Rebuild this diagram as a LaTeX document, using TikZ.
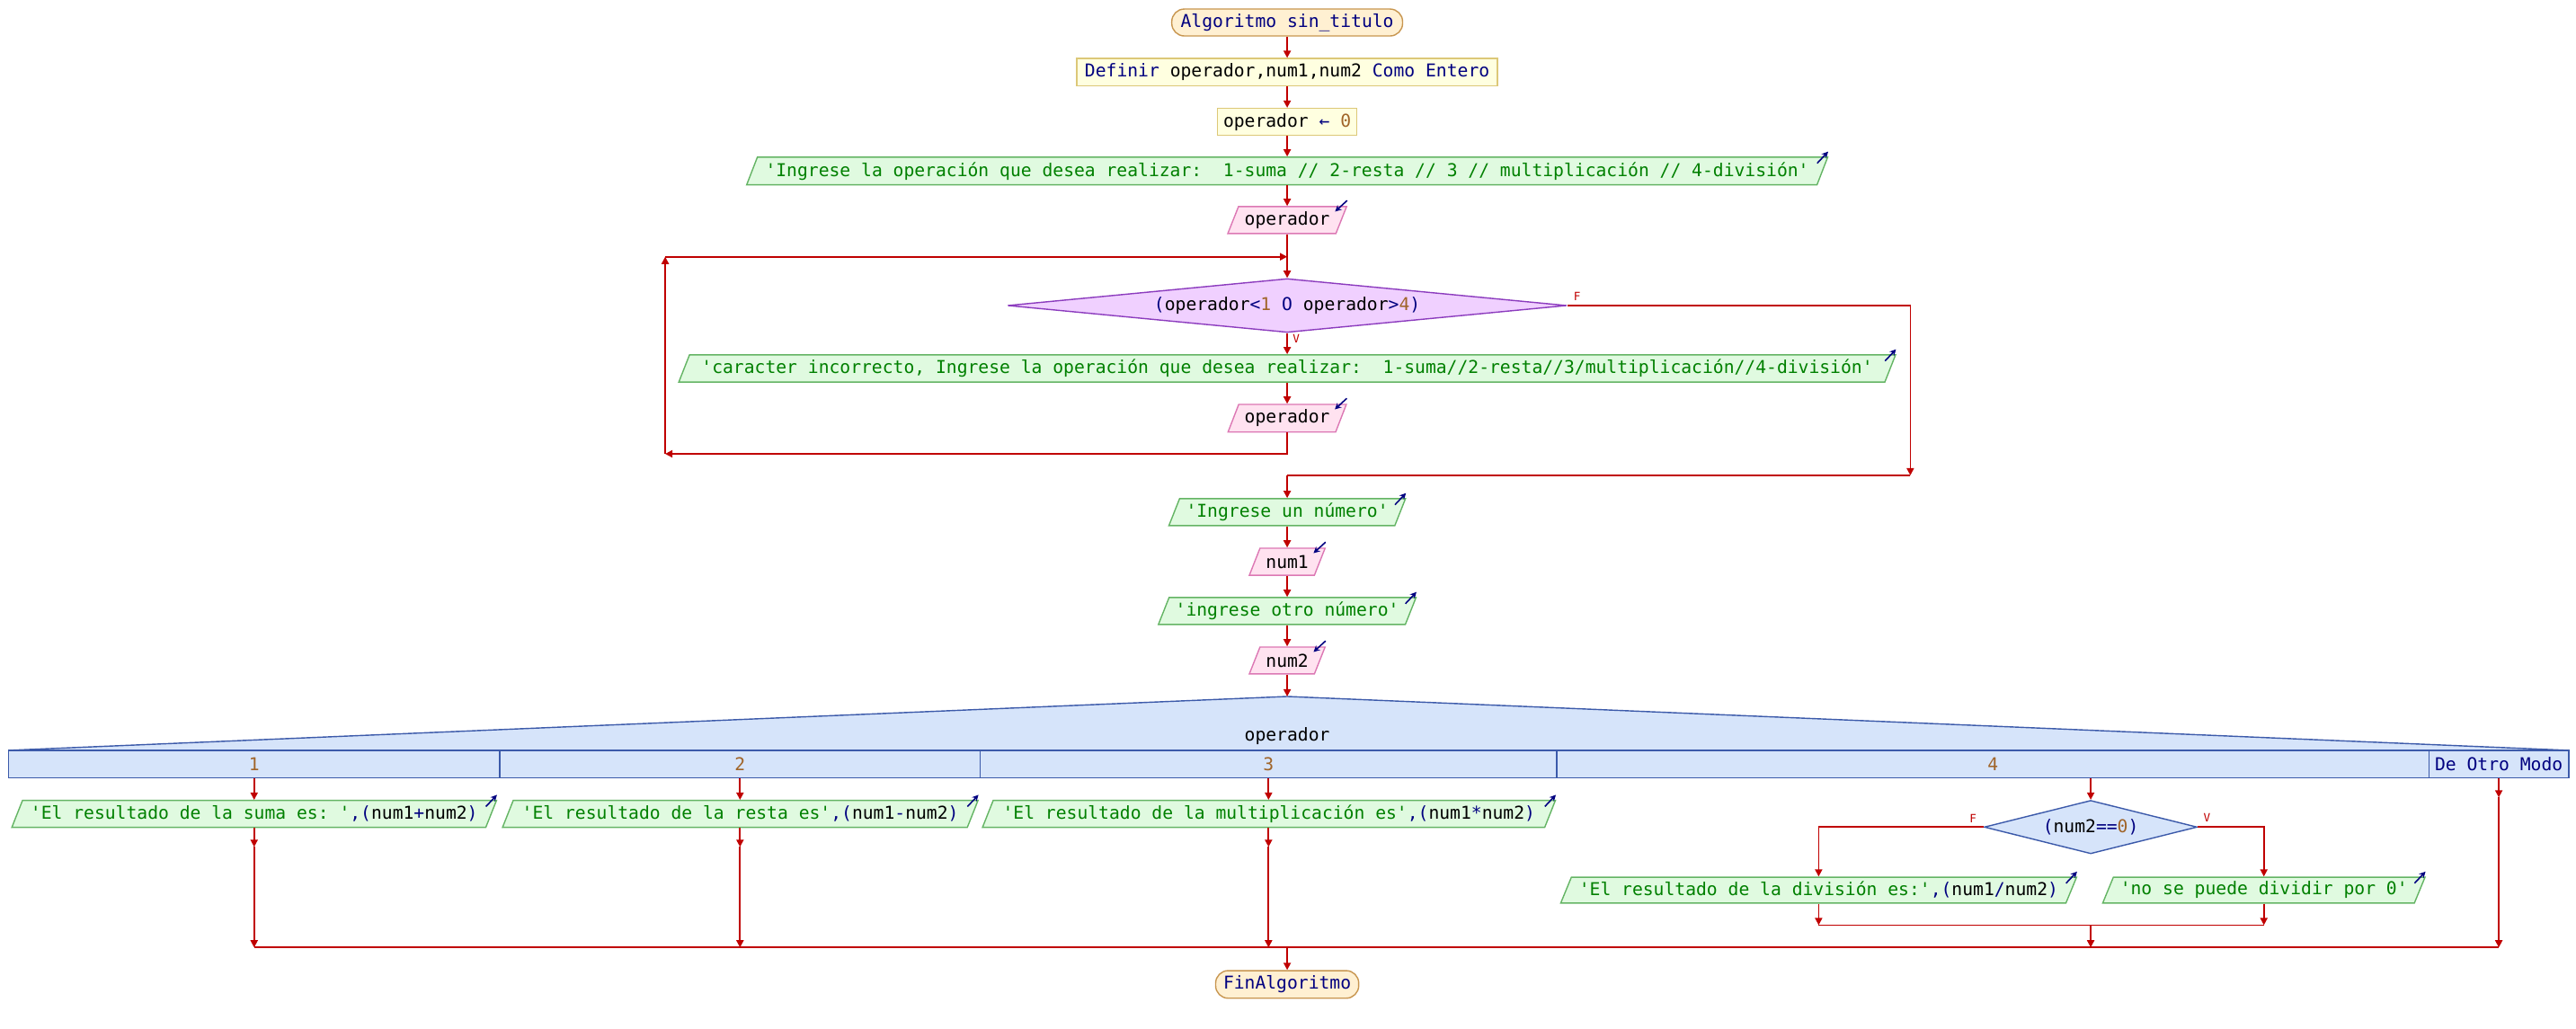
\documentclass[tikz,border=0pt]{standalone}
\usepackage{fontspec}
\setmonofont{DejaVu Sans Mono}
\usetikzlibrary{arrows.meta,shapes.geometric,calc}
\definecolor{cred}{RGB}{192,0,0}
\definecolor{ckw}{RGB}{0,0,128}
\definecolor{cstr}{RGB}{0,128,0}
\definecolor{cnum}{RGB}{160,100,40}
\definecolor{termfill}{RGB}{255,240,210}
\definecolor{termdraw}{RGB}{200,150,80}
\definecolor{procfill}{RGB}{255,255,224}
\definecolor{procdraw}{RGB}{220,200,120}
\definecolor{outfill}{RGB}{224,250,224}
\definecolor{outdraw}{RGB}{100,180,100}
\definecolor{infill}{RGB}{255,226,240}
\definecolor{indraw}{RGB}{220,120,180}
\definecolor{dfill}{RGB}{240,208,255}
\definecolor{ddraw}{RGB}{140,60,190}
\definecolor{segfill}{RGB}{214,228,250}
\definecolor{segdraw}{RGB}{60,90,170}
\newcommand\Kw[1]{\textcolor{ckw}{#1}}
\newcommand\Str[1]{\textcolor{cstr}{#1}}
\newcommand\Num[1]{\textcolor{cnum}{#1}}
\newcommand\myft{\ttfamily\fontsize{5.6pt}{6.6pt}\selectfont}
\def\myU{0.018278}
\def\mySl{6.5}
\newcommand\pxw[1]{#1*\myU*1cm}
\tikzset{
 conn/.style={draw=cred, line width=0.5pt},
 arr/.style={conn, -{Triangle[length=2.3pt,width=2.3pt]}},
 term/.style={draw=termdraw, fill=termfill, line width=0.4pt, rounded corners=0.14cm, inner sep=0, font=\myft, text=ckw},
 proc/.style={draw=procdraw, fill=procfill, line width=0.4pt, inner sep=0, font=\myft},
 iotext/.style={inner sep=0, font=\myft},
 outsty/.style={draw=outdraw, fill=outfill, line width=0.4pt},
 insty/.style={draw=indraw, fill=infill, line width=0.4pt},
 icon/.style={draw=ckw, line width=0.45pt, -{Stealth[length=2pt,width=2pt]}},
 cell/.style={draw=segdraw, fill=segfill, line width=0.4pt, inner sep=0, font=\myft, minimum height=\pxw{16.6}},
 fv/.style={text=cred, font=\ttfamily\fontsize{3.6pt}{4pt}\selectfont, inner sep=0},
}
\newcommand\outbox[6]{%
 \path[outsty] ({#2-#4/2},{#3+#5/2}) -- ({#2+#4/2-\mySl},{#3+#5/2}) -- ({#2+#4/2},{#3-#5/2}) -- ({#2-#4/2+\mySl},{#3-#5/2}) -- cycle;
 \node[iotext, minimum height=\pxw{#5}] (#1) at (#2,#3) {#6};
 \draw[icon] ({#2+#4/2-6.4},{#3-#5/2+3.7}) -- ({#2+#4/2+0.3},{#3-#5/2-3.4});
}
\newcommand\inbox[6]{%
 \path[insty] ({#2-#4/2},{#3+#5/2}) -- ({#2+#4/2-\mySl},{#3+#5/2}) -- ({#2+#4/2},{#3-#5/2}) -- ({#2-#4/2+\mySl},{#3-#5/2}) -- cycle;
 \node[iotext, minimum height=\pxw{#5}] (#1) at (#2,#3) {#6};
 \draw[icon] ({#2+#4/2+0.3},{#3-#5/2-3.7}) -- ({#2+#4/2-7},{#3-#5/2+3});
}
\begin{document}
\begin{tikzpicture}[x=0.018278cm,y=-0.018278cm]
\useasboundingbox (0,0) rectangle (1568,626);
% main column
\node[term, minimum width=\pxw{140.5}, minimum height=\pxw{16.4}] (start) at (783.5,13.7) {Algoritmo sin\_titulo};
\node[proc, minimum width=\pxw{256}, minimum height=\pxw{16.7}] (def) at (783.5,44) {\Kw{Definir} operador,num1,num2 \Kw{Como Entero}};
\node[proc, minimum width=\pxw{85}, minimum height=\pxw{16.4}] (asg) at (783.5,74.2) {operador \Kw{←} \Num{0}};
\outbox{o1}{783.5}{104.1}{658}{16.8}{\Str{'Ingrese la operación que desea realizar:\ \ 1-suma // 2-resta // 3 // multiplicación // 4-división'}}
\inbox{in1}{783.5}{134}{72.3}{16.4}{operador}
\node[diamond, draw=ddraw, fill=dfill, line width=0.4pt, aspect=10, inner sep=0, minimum width=\pxw{340.3}, minimum height=\pxw{32.8}, font=\myft] (d1) at (783.5,186) {\Kw{(}operador\Kw{<}\Num{1} \Kw{O} operador\Kw{>}\Num{4}\Kw{)}};
\outbox{car}{783.5}{224.3}{740.6}{16.5}{\Str{'caracter incorrecto, Ingrese la operación que desea realizar:\ \ 1-suma//2-resta//3/multiplicación//4-división'}}
\inbox{in2}{783.5}{254.6}{72}{16.8}{operador}
\outbox{ing1}{783.5}{311.8}{144}{16.4}{\Str{'Ingrese un número'}}
\inbox{n1}{783.5}{342}{46.1}{16.5}{num1}
\outbox{ing2}{783.5}{372}{156.8}{16.4}{\Str{'ingrese otro número'}}
\inbox{n2}{783.5}{402.1}{46.1}{16.4}{num2}
% segun
\coordinate (seg) at (783.5,424);
\path[fill=segfill, draw=segdraw, line width=0.4pt] (5.2,456.8) -- (seg) -- (1563.5,456.8) -- cycle;
\node[iotext] (segl) at (783.5,448.3) {operador};
\node[cell, minimum width=\pxw{299}] (c1) at (154.7,465.1) {\Num{1}};
\node[cell, minimum width=\pxw{292.5}] (c2) at (450.45,465.1) {\Num{2}};
\node[cell, minimum width=\pxw{350.9}] (c3) at (772.15,465.1) {\Num{3}};
\node[cell, minimum width=\pxw{530.9}] (c4) at (1213.05,465.1) {\Num{4}};
\node[cell, minimum width=\pxw{85}] (c5) at (1521,465.1) {\Kw{De Otro Modo}};
\outbox{p1}{154.7}{495.5}{295}{16.4}{\Str{'El resultado de la suma es: '}\Kw{,(}num1\Kw{+}num2\Kw{)}}
\outbox{p2}{450.6}{495.5}{289.4}{16.4}{\Str{'El resultado de la resta es'}\Kw{,(}num1\Kw{-}num2\Kw{)}}
\outbox{p3}{772.4}{495.5}{348.7}{16.4}{\Str{'El resultado de la multiplicación es'}\Kw{,(}num1\Kw{*}num2\Kw{)}}
\node[diamond, draw=segdraw, fill=segfill, line width=0.4pt, aspect=4, inner sep=0, minimum width=\pxw{129.6}, minimum height=\pxw{32.5}, font=\myft] (d2) at (1272.6,503.5) {\Kw{(}num2\Kw{==}\Num{0}\Kw{)}};
\outbox{pf}{1107}{541.9}{314}{15.8}{\Str{'El resultado de la división es:'}\Kw{,(}num1\Kw{/}num2\Kw{)}}
\outbox{pv}{1378}{541.9}{196.2}{15.8}{\Str{'no se puede dividir por 0'}}
\node[term, minimum width=\pxw{87.1}, minimum height=\pxw{16.8}] (fin) at (783.5,599.3) {FinAlgoritmo};
% labels
\node[fv] (lf1) at (960,180.5) {F};
\node[fv] (lv1) at (789,206) {V};
\node[fv] (lf2) at (1201,498.3) {F};
\node[fv] (lv2) at (1343.3,498) {V};
% connectors main
\draw[arr] (start) -- (def);
\draw[arr] (def) -- (asg);
\draw[arr] (asg) -- (o1);
\draw[arr] (o1) -- (in1);
\draw[arr] (in1) -- (d1);
\coordinate (lt) at (404.9,156.3);
\coordinate (lb) at (404.9,276.3);
\draw[arr] (d1.south) -- (car.north);
\draw[arr] (car) -- (in2);
\draw[arr] (in2.south) |- (lb);
\draw[arr] (lb) -- (lt);
\draw[arr] (lt) -- (lt -| d1.north);
\coordinate (fr) at (1162.8,289.4);
\draw[arr] (d1.east) -| (fr);
\draw[conn] (fr) -- (fr -| ing1.north);
\draw[arr] (fr -| ing1.north) -- (ing1.north);
\draw[arr] (ing1) -- (n1);
\draw[arr] (n1) -- (ing2);
\draw[arr] (ing2) -- (n2);
\draw[arr] (n2.south) -- (seg);
% cases
\coordinate (bl) at (154.7,576.8);
\coordinate (jj) at (1272.6,563.2);
\foreach \c/\p in {c1/p1,c2/p2,c3/p3}{
 \draw[arr] (\c.south) -- (\c.south |- \p.north);
 \draw[arr] (\c.south |- \p.south) -- ($(\c.south |- \p.south)+(0,11.5)$);
 \draw[arr] ($(\c.south |- \p.south)+(0,11.5)$) -- (\c.south |- bl);
}
\draw[arr] (c4.south -| d2.north) -- (d2.north);
\draw[arr] (d2.west) -| (pf.north);
\draw[arr] (d2.east) -| (pv.north);
\draw[arr] (pf.south) -- (pf.south |- jj);
\draw[arr] (pv.south) -- (pv.south |- jj);
\draw[conn] (pf.south |- jj) -- (pv.south |- jj);
\draw[arr] (jj) -- (jj |- bl);
\draw[arr] (c5.south) -- ($(c5.south)+(0,11.7)$);
\draw[arr] ($(c5.south)+(0,11.7)$) -- (c5.south |- bl);
\draw[conn] (bl) -- (c5.south |- bl);
\draw[arr] (fin.north |- bl) -- (fin.north);
\end{tikzpicture}
\end{document}
